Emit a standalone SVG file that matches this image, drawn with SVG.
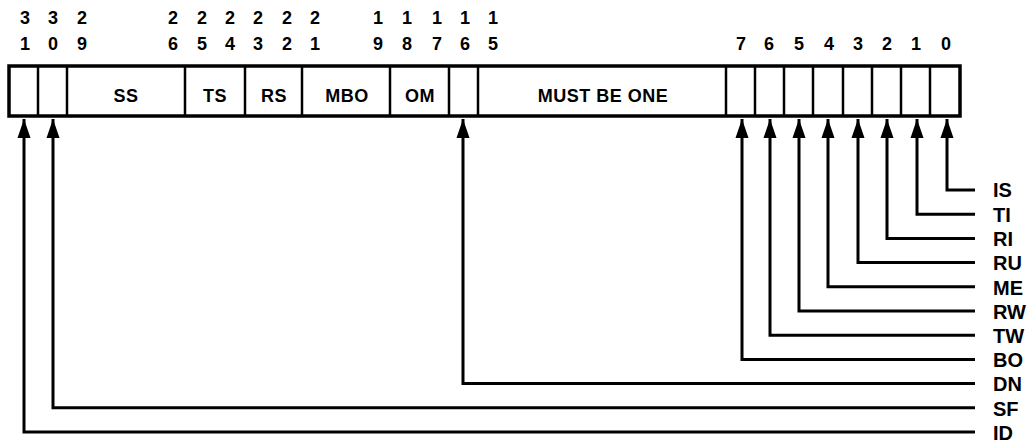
<svg xmlns="http://www.w3.org/2000/svg" width="1031" height="444" viewBox="0 0 1031 444">
<defs>
<marker id="ah" markerUnits="userSpaceOnUse" markerWidth="20" markerHeight="14" viewBox="0 0 20 14" refX="19" refY="7" orient="auto">
<path d="M0,0.5 L19,7 L0,13.5 Z" fill="#000"/>
</marker>
<style>
text{font-family:"Liberation Sans",Arial,sans-serif;font-weight:bold;fill:#000}
.n{font-size:18px;text-anchor:middle}
.f{font-size:18px;text-anchor:middle;letter-spacing:0.5px}
.l{font-size:20px}
.c{fill:none;stroke:#000;stroke-width:3;stroke-linejoin:miter}
.d{stroke:#000;stroke-width:2.5}
</style>
</defs>
<rect width="1031" height="444" fill="#fff"/>
<g id="bitnumbers">
<text class="n" x="25" y="24">3</text><text class="n" x="25" y="50">1</text>
<text class="n" x="53" y="24">3</text><text class="n" x="53" y="50">0</text>
<text class="n" x="82" y="24">2</text><text class="n" x="82" y="50">9</text>
<text class="n" x="173" y="24">2</text><text class="n" x="173" y="50">6</text>
<text class="n" x="202" y="24">2</text><text class="n" x="202" y="50">5</text>
<text class="n" x="230" y="24">2</text><text class="n" x="230" y="50">4</text>
<text class="n" x="258" y="24">2</text><text class="n" x="258" y="50">3</text>
<text class="n" x="287" y="24">2</text><text class="n" x="287" y="50">2</text>
<text class="n" x="315" y="24">2</text><text class="n" x="315" y="50">1</text>
<text class="n" x="378" y="24">1</text><text class="n" x="378" y="50">9</text>
<text class="n" x="407" y="24">1</text><text class="n" x="407" y="50">8</text>
<text class="n" x="437" y="24">1</text><text class="n" x="437" y="50">7</text>
<text class="n" x="465" y="24">1</text><text class="n" x="465" y="50">6</text>
<text class="n" x="493" y="24">1</text><text class="n" x="493" y="50">5</text>
<text class="n" x="741" y="50">7</text>
<text class="n" x="769" y="50">6</text>
<text class="n" x="799" y="50">5</text>
<text class="n" x="829" y="50">4</text>
<text class="n" x="858" y="50">3</text>
<text class="n" x="887" y="50">2</text>
<text class="n" x="916" y="50">1</text>
<text class="n" x="946" y="50">0</text>
</g>
<g id="register">
<rect x="9" y="66" width="951" height="50" fill="none" stroke="#000" stroke-width="3.5"/>
<line class="d" x1="38" y1="66" x2="38" y2="116"/>
<line class="d" x1="67" y1="66" x2="67" y2="116"/>
<line class="d" x1="185" y1="66" x2="185" y2="116"/>
<line class="d" x1="245" y1="66" x2="245" y2="116"/>
<line class="d" x1="302" y1="66" x2="302" y2="116"/>
<line class="d" x1="390" y1="66" x2="390" y2="116"/>
<line class="d" x1="449" y1="66" x2="449" y2="116"/>
<line class="d" x1="478" y1="66" x2="478" y2="116"/>
<line class="d" x1="726" y1="66" x2="726" y2="116"/>
<line class="d" x1="755" y1="66" x2="755" y2="116"/>
<line class="d" x1="784" y1="66" x2="784" y2="116"/>
<line class="d" x1="813" y1="66" x2="813" y2="116"/>
<line class="d" x1="843" y1="66" x2="843" y2="116"/>
<line class="d" x1="872" y1="66" x2="872" y2="116"/>
<line class="d" x1="901" y1="66" x2="901" y2="116"/>
<line class="d" x1="930" y1="66" x2="930" y2="116"/>
<text class="f" x="126" y="102">SS</text>
<text class="f" x="215" y="102">TS</text>
<text class="f" x="274" y="102">RS</text>
<text class="f" x="347" y="102">MBO</text>
<text class="f" x="420" y="102">OM</text>
<text class="f" x="603" y="102">MUST BE ONE</text>
</g>
<g id="connectors">
<path class="c" d="M975,190 H947 V119" marker-end="url(#ah)"/>
<path class="c" d="M975,214.2 H917 V119" marker-end="url(#ah)"/>
<path class="c" d="M975,238.4 H887 V119" marker-end="url(#ah)"/>
<path class="c" d="M975,262.6 H858 V119" marker-end="url(#ah)"/>
<path class="c" d="M975,286.8 H828 V119" marker-end="url(#ah)"/>
<path class="c" d="M975,311 H799 V119" marker-end="url(#ah)"/>
<path class="c" d="M975,335.2 H770 V119" marker-end="url(#ah)"/>
<path class="c" d="M975,359.4 H742 V119" marker-end="url(#ah)"/>
<path class="c" d="M975,383.6 H463 V119" marker-end="url(#ah)"/>
<path class="c" d="M975,407.8 H53 V119" marker-end="url(#ah)"/>
<path class="c" d="M975,432 H24 V119" marker-end="url(#ah)"/>
</g>
<g id="labels">
<text class="l" x="993" y="197">IS</text>
<text class="l" x="993" y="221.5">TI</text>
<text class="l" x="993" y="246">RI</text>
<text class="l" x="993" y="270">RU</text>
<text class="l" x="993" y="294.5">ME</text>
<text class="l" x="993" y="318.5">RW</text>
<text class="l" x="993" y="343">TW</text>
<text class="l" x="993" y="367">BO</text>
<text class="l" x="993" y="391">DN</text>
<text class="l" x="993" y="415.5">SF</text>
<text class="l" x="993" y="439.5">ID</text>
</g>
</svg>
